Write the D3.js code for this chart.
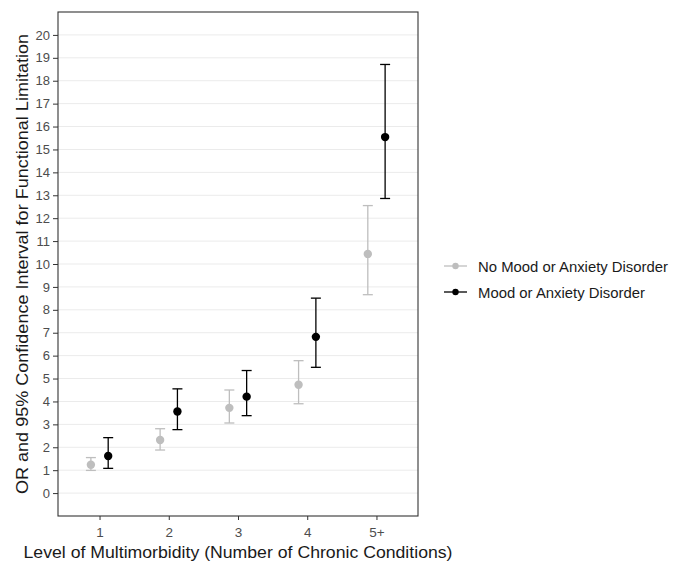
<!DOCTYPE html>
<html>
<head>
<meta charset="utf-8">
<script src="https://cdn.jsdelivr.net/npm/d3@7"></script>
<style>
  body { margin: 0; background: #fff; }
  text { font-family: "Liberation Sans", Arial, sans-serif; }
</style>
</head>
<body>
<svg id="chart" width="680" height="571"></svg>
<script>
const categories = ["1", "2", "3", "4", "5+"];
const seriesNames = ["No Mood or Anxiety Disorder", "Mood or Anxiety Disorder"];
const seriesColors = ["#bebebe", "#000000"];
// Odds ratios and 95% CI
const noMoodOR    = [1.24, 2.32, 3.72, 4.73, 10.44];
const noMoodLower = [0.99, 1.88, 3.06, 3.90, 8.66];
const noMoodUpper = [1.55, 2.81, 4.50, 5.78, 12.55];
const moodOR      = [1.62, 3.56, 4.21, 6.82, 15.54];
const moodLower   = [1.08, 2.77, 3.38, 5.49, 12.86];
const moodUpper   = [2.42, 4.55, 5.35, 8.51, 18.71];
const yTicks = d3.range(0, 21);

const svg = d3.select("#chart");
const panel = { left: 58, right: 418, top: 12, bottom: 516 };

// ggplot discrete expansion 0.6 units each side
const step = (panel.right - panel.left) / (categories.length - 1 + 1.2);
const xPos = d3.scalePoint().domain(categories)
  .range([panel.left + 0.6 * step, panel.right - 0.6 * step]);
const y = d3.scaleLinear().domain([-1, 21]).range([panel.bottom, panel.top]);

const dodge = 0.125 * step;

// grid
svg.append("g").selectAll("line").data(yTicks).join("line")
  .attr("x1", panel.left).attr("x2", panel.right)
  .attr("y1", d => y(d)).attr("y2", d => y(d))
  .attr("stroke", "#ebebeb").attr("stroke-width", 1);

// panel border
svg.append("rect")
  .attr("x", panel.left).attr("y", panel.top)
  .attr("width", panel.right - panel.left).attr("height", panel.bottom - panel.top)
  .attr("fill", "none").attr("stroke", "#333333").attr("stroke-width", 1.1);

// y axis
const yAxis = d3.axisLeft(y).tickValues(yTicks).tickSize(5).tickPadding(3);
const gy = svg.append("g").attr("transform", `translate(${panel.left},0)`).call(yAxis);
gy.select(".domain").remove();
gy.selectAll(".tick line").attr("stroke", "#333333");
gy.selectAll(".tick text").attr("fill", "#4d4d4d").style("font-size", "13px")
  .style("font-family", "'Liberation Sans', Arial, sans-serif");

// x axis
const xAxis = d3.axisBottom(xPos).tickSize(4).tickPadding(7);
const gx = svg.append("g").attr("transform", `translate(0,${panel.bottom})`).call(xAxis);
gx.select(".domain").remove();
gx.selectAll(".tick line").attr("stroke", "#333333");
gx.selectAll(".tick text").attr("fill", "#4d4d4d").style("font-size", "13.5px")
  .style("font-family", "'Liberation Sans', Arial, sans-serif");

// series data
const series = [
  { name: seriesNames[0], color: seriesColors[0], or: noMoodOR, lo: noMoodLower, hi: noMoodUpper, off: -dodge },
  { name: seriesNames[1], color: seriesColors[1], or: moodOR, lo: moodLower, hi: moodUpper, off: dodge }
];

const capHalf = 5;
series.forEach(s => {
  const g = svg.append("g");
  const pts = categories.map((c, i) => ({ c, or: s.or[i], lo: s.lo[i], hi: s.hi[i] }));
  g.selectAll(".v").data(pts).join("line")
    .attr("x1", d => xPos(d.c) + s.off).attr("x2", d => xPos(d.c) + s.off)
    .attr("y1", d => y(d.lo)).attr("y2", d => y(d.hi))
    .attr("stroke", s.color).attr("stroke-width", 1.3);
  ["lo", "hi"].forEach(k => {
    g.selectAll(".c" + k).data(pts).join("line")
      .attr("x1", d => xPos(d.c) + s.off - capHalf).attr("x2", d => xPos(d.c) + s.off + capHalf)
      .attr("y1", d => y(d[k])).attr("y2", d => y(d[k]))
      .attr("stroke", s.color).attr("stroke-width", 1.3);
  });
  g.selectAll("circle").data(pts).join("circle")
    .attr("cx", d => xPos(d.c) + s.off).attr("cy", d => y(d.or))
    .attr("r", 4.2).attr("fill", s.color);
});

// axis titles
svg.append("text")
  .attr("x", (panel.left + panel.right) / 2).attr("y", 558)
  .attr("text-anchor", "middle").attr("fill", "#1a1a1a")
  .style("font-size", "17px")
  .attr("textLength", 429).attr("lengthAdjust", "spacingAndGlyphs")
  .text("Level of Multimorbidity (Number of Chronic Conditions)");

svg.append("text")
  .attr("transform", `translate(28,${(panel.top + panel.bottom) / 2}) rotate(-90)`)
  .attr("text-anchor", "middle").attr("fill", "#1a1a1a")
  .style("font-size", "17px")
  .attr("textLength", 460).attr("lengthAdjust", "spacingAndGlyphs")
  .text("OR and 95% Confidence Interval for Functional Limitation");

// legend
const legY = [266, 292];
const legLen = [190, 167];
series.forEach((s, i) => {
  const g = svg.append("g");
  g.append("line").attr("x1", 444).attr("x2", 467)
    .attr("y1", legY[i]).attr("y2", legY[i])
    .attr("stroke", s.color).attr("stroke-width", 1.3);
  g.append("circle").attr("cx", 455.5).attr("cy", legY[i]).attr("r", 3.2).attr("fill", s.color);
  g.append("text").attr("x", 478).attr("y", legY[i] + 5.5)
    .attr("fill", "#1a1a1a").style("font-size", "15px")
    .attr("textLength", legLen[i]).attr("lengthAdjust", "spacingAndGlyphs")
    .text(s.name);
});
</script>
</body>
</html>
